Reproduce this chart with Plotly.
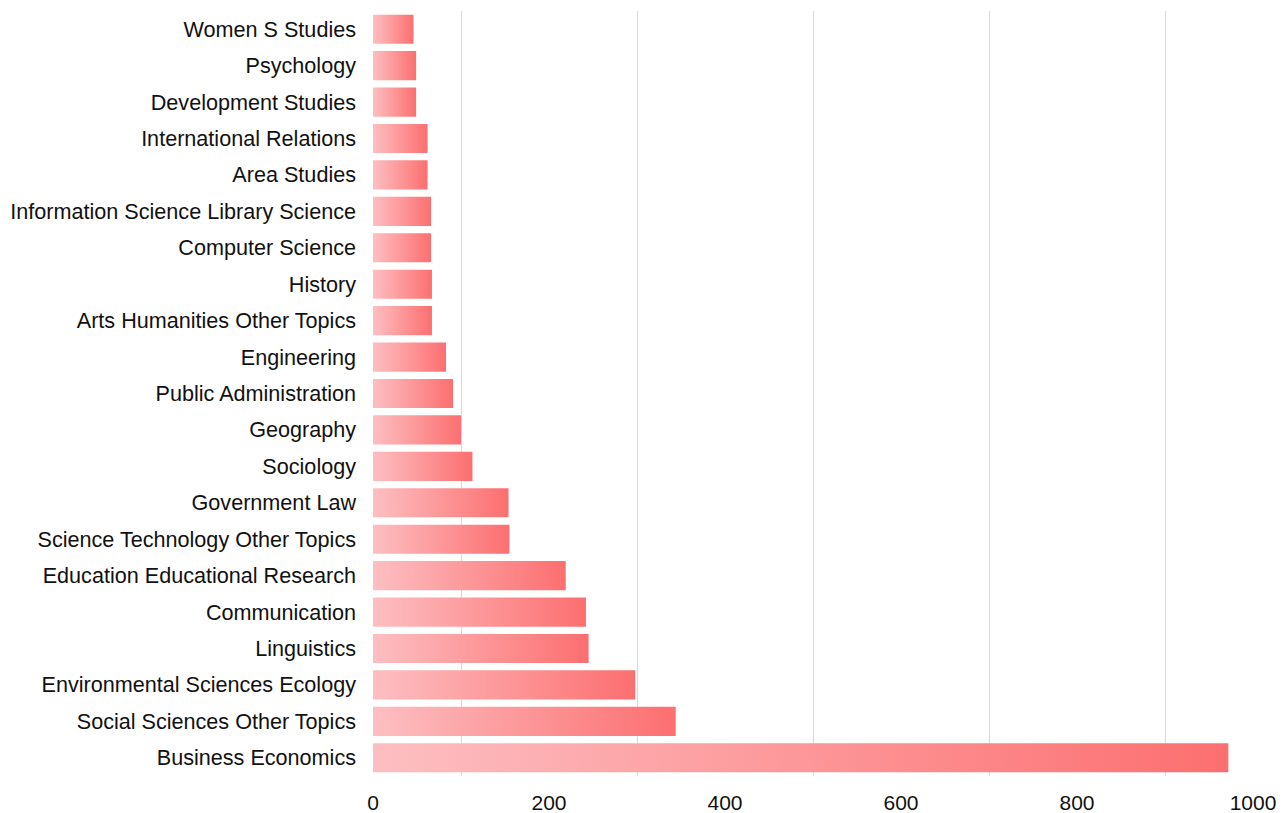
import plotly.graph_objects as go

# Research areas (bottom to top) and their record counts
categories = [
    "Business Economics",
    "Social Sciences Other Topics",
    "Environmental Sciences Ecology",
    "Linguistics",
    "Communication",
    "Education Educational Research",
    "Science Technology Other Topics",
    "Government Law",
    "Sociology",
    "Geography",
    "Public Administration",
    "Engineering",
    "Arts Humanities Other Topics",
    "History",
    "Computer Science",
    "Information Science Library Science",
    "Area Studies",
    "International Relations",
    "Development Studies",
    "Psychology",
    "Women S Studies",
]
counts = [972, 344, 298, 245, 242, 219, 155, 154, 113, 100, 91, 83,
          67, 67, 66, 66, 62, 62, 49, 49, 46]

x_ticks = [0, 200, 400, 600, 800, 1000]
grid_positions = [100, 300, 500, 700, 900]

LIGHT = "#fdbfc2"
DEEP = "#fc6f70"
GRID = "#f5ccd1"
BAR_HALF = 0.4

fig = go.Figure()

# Each bar is a filled rectangle so it can carry its own left-to-right gradient
for i, (name, v) in enumerate(zip(categories, counts)):
    fig.add_trace(go.Scatter(
        x=[0, v, v, 0, 0],
        y=[i - BAR_HALF, i - BAR_HALF, i + BAR_HALF, i + BAR_HALF, i - BAR_HALF],
        mode="lines",
        line=dict(width=0),
        fill="toself",
        fillgradient=dict(type="horizontal",
                          colorscale=[[0, LIGHT], [1, DEEP]]),
        name=name,
        hoveron="fills",
        text=f"{name}: {v}",
        hoverinfo="text",
        showlegend=False,
    ))

fig.update_layout(
    width=1284,
    height=813,
    margin=dict(l=373, r=31, t=11, b=37),
    paper_bgcolor="white",
    plot_bgcolor="white",
    font=dict(family="Liberation Sans, Arial, sans-serif", size=21, color="#111111"),
    showlegend=False,
    xaxis=dict(
        range=[0, 1000],
        tickvals=x_ticks,
        ticktext=[str(t) for t in x_ticks],
        showgrid=False,
        zeroline=False,
        showline=False,
        ticks="",
        automargin=False,
        ticklabelstandoff=12,
        tickfont=dict(size=21),
    ),
    # companion axis that only carries the split lines between major ticks
    xaxis2=dict(
        overlaying="x",
        matches="x",
        side="bottom",
        tickvals=grid_positions,
        showticklabels=False,
        showgrid=True,
        gridcolor=GRID,
        gridwidth=1,
        zeroline=False,
        showline=False,
        ticks="",
        automargin=False,
        layer="below traces",
    ),
    yaxis=dict(
        range=[-0.5, len(categories) - 0.5],
        tickvals=list(range(len(categories))),
        ticktext=categories,
        showgrid=False,
        zeroline=False,
        showline=False,
        ticks="",
        automargin=False,
        ticklabelstandoff=16,
        tickfont=dict(size=21.6),
    ),
)

# an empty trace so the companion axis is rendered
fig.add_trace(go.Scatter(x=[], y=[], xaxis="x2", yaxis="y", showlegend=False,
                         hoverinfo="skip"))

fig.write_html("out.html")
